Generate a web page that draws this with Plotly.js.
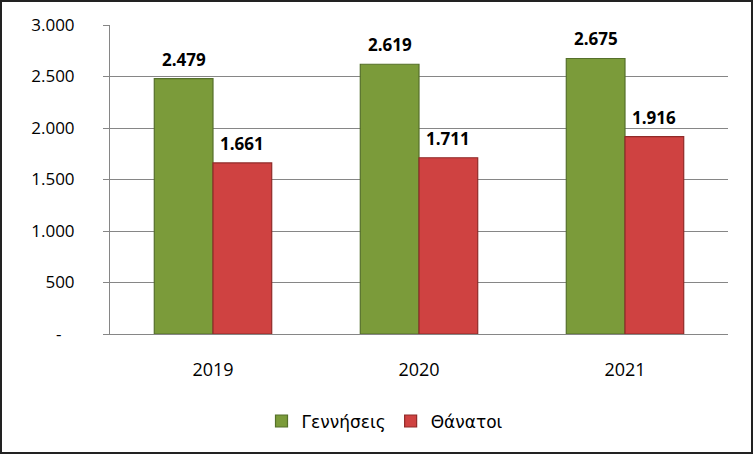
<!DOCTYPE html>
<html>
<head>
<meta charset="utf-8">
<script src="https://cdn.plot.ly/plotly-3.0.1.min.js"></script>
<style>
html,body{margin:0;padding:0;background:#fff;}
#wrap{position:absolute;left:0;top:0;width:749px;height:450px;border:2px solid #222;overflow:hidden;}
#chart{width:749px;height:450px;}
</style>
</head>
<body>
<div id="wrap"><div id="chart"></div></div>
<script>
const years = ['2019', '2020', '2021'];
const births = [2479, 2619, 2675];
const deaths = [1661, 1711, 1916];
const seriesNames = ['Γεννήσεις', 'Θάνατοι'];
const yTickVals = [0, 500, 1000, 1500, 2000, 2500, 3000];
const yTickText = ['-\u00a0\u00a0\u00a0', '500', '1.000', '1.500', '2.000', '2.500', '3.000'];

const fmt = v => v.toLocaleString('de-DE');

const labelFont = {family: 'Open Sans, Liberation Sans, sans-serif', size: 17, color: '#000', weight: 'bold'};

const traces = [
  {type: 'bar', name: seriesNames[0], x: years, y: births, hoverinfo: 'none',
   marker: {color: '#7b9b3a', line: {color: '#55702a', width: 1.2}}},
  {type: 'bar', name: seriesNames[1], x: years, y: deaths, hoverinfo: 'none',
   marker: {color: '#cf4241', line: {color: '#902a28', width: 1.2}}}
];

const plotW = 749 - 108 - 23;
const bargap = 0.43;
const barPx = plotW / years.length * (1 - bargap) / 2;
const annotations = [];
[births, deaths].forEach((series, si) => {
  series.forEach((v, i) => {
    annotations.push({x: i, y: v, xref: 'x', yref: 'y', text: '<b>' + fmt(v) + '</b>',
      showarrow: false, yanchor: 'bottom', yshift: 6, xshift: (si === 0 ? -1 : 1) * barPx / 2,
      font: labelFont});
  });
});

const layout = {
  width: 749, height: 450,
  margin: {l: 108, r: 23, t: 23, b: 118},
  paper_bgcolor: '#fff', plot_bgcolor: '#fff',
  separators: ',.',
  barmode: 'group', bargap: bargap, bargroupgap: 0,
  font: {family: 'Open Sans, Liberation Sans, sans-serif', color: '#000'},
  showlegend: true,
  annotations: annotations,
  legend: {orientation: 'h', x: 0.445, xanchor: 'center', y: -0.283, yanchor: 'middle',
           font: {family: 'DejaVu Sans, sans-serif', size: 17, color: '#000'}, tracegroupgap: 0},
  xaxis: {type: 'category', range: [-0.5, years.length - 0.5], showgrid: false, showline: true,
          linecolor: '#868686', linewidth: 1,
          ticks: '', tickfont: {size: 18}, ticklabelstandoff: 19, fixedrange: true},
  yaxis: {range: [0, 3000], tickvals: yTickVals, ticktext: yTickText, showgrid: true, gridcolor: '#868686',
          gridwidth: 1, showline: true, linecolor: '#868686', ticks: 'outside', ticklen: 6, tickcolor: '#868686',
          tickfont: {size: 17}, ticklabelstandoff: 25, zeroline: false, fixedrange: true}
};

Plotly.newPlot('chart', traces, layout, {staticPlot: true, displayModeBar: false});
</script>
</body>
</html>
